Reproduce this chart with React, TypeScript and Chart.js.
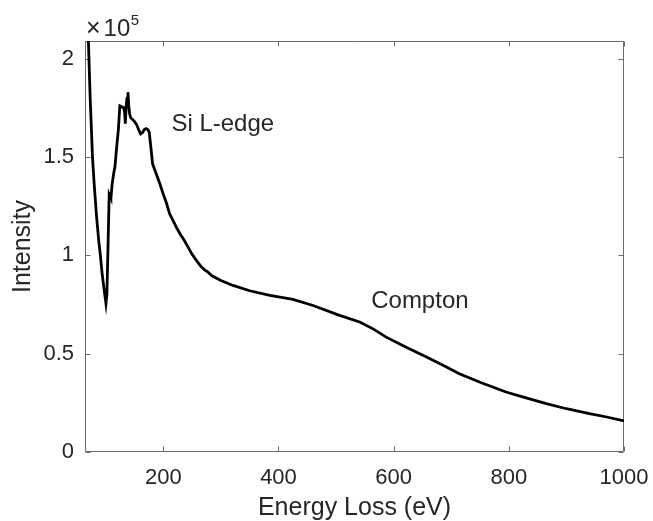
import React, { useEffect, useRef } from "react";
import { Chart, registerables } from "chart.js";

Chart.register(...registerables);

const energy = [
  65, 70, 73, 77, 80, 84, 88, 90, 94, 97, 100.4, 102, 104, 106, 107.5, 109, 111,
  114, 116, 119, 122, 124.5, 128, 131.5, 133, 134, 135.5, 137, 138.6, 140, 141.5,
  143.3, 147, 150, 153.7, 157, 160.6, 164, 167, 170, 173, 175.5, 178, 181.4, 187,
  194, 200, 205, 211, 218, 224, 229, 236, 243, 250, 258, 265, 272, 276, 285, 300, 321,
  350, 385, 425, 460, 506, 541, 565, 587, 620, 657, 690, 714, 750, 795, 830, 865,
  900, 940, 970, 1000,
];
const intensity = [
  250000, 208000, 180000, 150000, 136000, 120000, 107000, 102000, 90000, 83000,
  75500, 80000, 105000, 131000, 130000, 129000, 136000, 142000, 145000, 155000, 164000,
  176000, 175500, 175000, 172000, 167000, 176000, 180000, 183000, 176000, 172000,
  170000, 169000, 168000, 166500, 164000, 161800, 162500, 164000, 164500, 164000,
  162600, 156000, 146500, 142000, 136400, 131000, 127000, 121100, 117000, 113500,
  111000, 107800, 104200, 100500, 97200, 94500, 92500, 91800, 89500, 87200, 84700, 82000,
  79600, 77600, 74500, 69500, 66100, 62500, 58400, 53500, 48300, 43500, 39800, 35500,
  30500, 27500, 24600, 22000, 19500, 17800, 15800,
];

const xTicks = [200, 400, 600, 800, 1000];
const xTickLabels = ["200", "400", "600", "800", "1000"];
const yTicks = [0, 50000, 100000, 150000, 200000];
const yTickLabels = ["0", "0.5", "1", "1.5", "2"];
const xRange = [64, 1000];
const yRange = [0, 209000];

const xTitle = "Energy Loss (eV)";
const yTitle = "Intensity";
const exponentBase = "10";
const exponentPower = "5";

const annotationTexts = ["Si L-edge", "Compton"];
const annotationEnergy = [214, 561];
const annotationIntensity = [163000, 73200];

const FONT = "'Liberation Sans', Arial, Helvetica, sans-serif";
const TEXT = "#262626";
const AXIS = "#6a6a6a";
const TICK_LEN = 5;

const boxPlugin = {
  id: "matlabBox",
  beforeDatasetsDraw(chart: any) {
    const { ctx, chartArea: a, scales } = chart;
    const L = Math.floor(a.left) + 0.5;
    const R = Math.ceil(a.right) - 0.5;
    const T = Math.floor(a.top) + 0.5;
    const B = Math.ceil(a.bottom) - 0.5;
    ctx.save();
    ctx.strokeStyle = AXIS;
    ctx.lineWidth = 1;
    ctx.beginPath();
    ctx.rect(L, T, R - L, B - T);
    for (const v of xTicks) {
      const p = Math.round(scales.x.getPixelForValue(v)) + 0.5;
      ctx.moveTo(p, B);
      ctx.lineTo(p, B - TICK_LEN);
      ctx.moveTo(p, T);
      ctx.lineTo(p, T + TICK_LEN);
    }
    for (const v of yTicks) {
      const p = Math.round(scales.y.getPixelForValue(v)) + 0.5;
      ctx.moveTo(L, p);
      ctx.lineTo(L + TICK_LEN, p);
      ctx.moveTo(R, p);
      ctx.lineTo(R - TICK_LEN, p);
    }
    ctx.stroke();
    ctx.restore();
  },
  afterDraw(chart: any) {
    const { ctx, chartArea: a, scales } = chart;
    ctx.save();
    ctx.fillStyle = TEXT;
    ctx.textAlign = "left";
    ctx.textBaseline = "alphabetic";
    ctx.font = `24px ${FONT}`;
    annotationTexts.forEach((t, i) => {
      ctx.fillText(
        t,
        scales.x.getPixelForValue(annotationEnergy[i]),
        scales.y.getPixelForValue(annotationIntensity[i])
      );
    });
    // exponent label (x10^5)
    const base = a.top - 5;
    let x = a.left + 1;
    ctx.font = `25px ${FONT}`;
    ctx.fillText("\u00d7", x, base);
    x += ctx.measureText("\u00d7").width + 3;
    ctx.font = `24px ${FONT}`;
    ctx.fillText(exponentBase, x, base);
    x += ctx.measureText(exponentBase).width + 0.5;
    ctx.font = `15px ${FONT}`;
    ctx.fillText(exponentPower, x, base - 11);
    ctx.restore();
  },
};

export default function App() {
  const ref = useRef<HTMLCanvasElement | null>(null);
  useEffect(() => {
    document.body.style.margin = "0";
    const canvas = ref.current;
    if (!canvas) return;
    const chart = new Chart(canvas, {
      type: "line",
      data: {
        datasets: [
          {
            data: energy.map((x, i) => ({ x, y: intensity[i] })),
            borderColor: "#000000",
            borderWidth: 2.8,
            pointRadius: 0,
            tension: 0,
            fill: false,
            clip: 0,
          } as any,
        ],
      },
      options: {
        responsive: false,
        animation: false,
        devicePixelRatio: 1,
        layout: { padding: { left: 0, top: 41, right: 29, bottom: 0 } },
        plugins: { legend: { display: false }, tooltip: { enabled: false } },
        scales: {
          x: {
            type: "linear",
            min: xRange[0],
            max: xRange[1],
            afterBuildTicks: (s: any) => {
              s.ticks = xTicks.map((v) => ({ value: v }));
            },
            afterFit: (s: any) => {
              s.height = 69;
              s.paddingLeft = 0;
              s.paddingRight = 0;
            },
            grid: { display: false, drawTicks: false },
            border: { display: false },
            ticks: {
              padding: 13,
              color: TEXT,
              autoSkip: false,
              maxRotation: 0,
              font: { family: FONT, size: 22 },
              callback: (v: any) => xTickLabels[xTicks.indexOf(Number(v))] ?? "",
            },
            title: {
              display: true,
              text: xTitle,
              color: TEXT,
              font: { family: FONT, size: 25 },
              padding: { top: 0, bottom: -2 },
            },
          },
          y: {
            type: "linear",
            min: yRange[0],
            max: yRange[1],
            afterBuildTicks: (s: any) => {
              s.ticks = yTicks.map((v) => ({ value: v }));
            },
            afterFit: (s: any) => {
              s.width = 85;
              s.paddingTop = 0;
              s.paddingBottom = 0;
            },
            grid: { display: false, drawTicks: false },
            border: { display: false },
            ticks: {
              padding: 11,
              color: TEXT,
              autoSkip: false,
              font: { family: FONT, size: 22 },
              callback: (v: any) => yTickLabels[yTicks.indexOf(Number(v))] ?? "",
            },
            title: {
              display: true,
              text: yTitle,
              color: TEXT,
              font: { family: FONT, size: 25 },
              padding: { top: 8, bottom: 0 },
            },
          },
        },
      } as any,
      plugins: [boxPlugin],
    });
    return () => chart.destroy();
  }, []);
  return (
    <div style={{ width: 653, height: 521, background: "#ffffff" }}>
      <canvas ref={ref} width={653} height={521} style={{ display: "block" }} />
    </div>
  );
}
